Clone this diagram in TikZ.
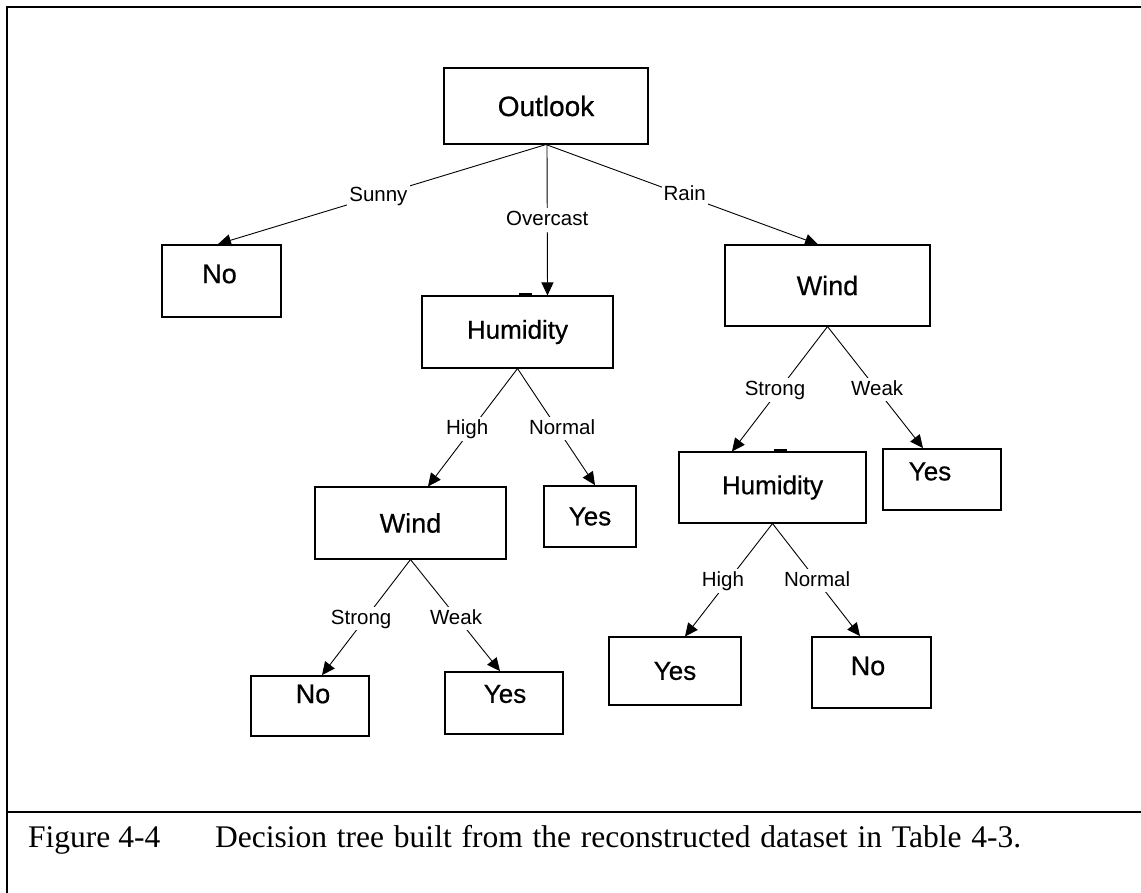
\documentclass[tikz,border=0pt]{standalone}
\usepackage{fontspec}
\setmainfont{Liberation Serif}
\newfontfamily\arialfont{Liberation Sans}
\newfontfamily\boxfont[FakeBold=0.6]{Liberation Sans}
\usetikzlibrary{arrows.meta}
\begin{document}
\begin{tikzpicture}[x=1pt,y=-1pt,
  treebox/.style={draw, line width=1.1pt, inner sep=0pt, font=\boxfont\fontsize{26}{26}\selectfont},
  heavybox/.style={treebox, line width=1.8pt},
  boxtext/.style={inner sep=0pt, font=\boxfont\fontsize{26}{26}\selectfont},
  bigtext/.style={font=\boxfont\fontsize{27}{27}\selectfont},
  elabel/.style={fill=white, inner sep=2pt, text height=15pt, text depth=4.3pt,
                 font=\arialfont\fontsize{20.5}{20.5}\selectfont},
  branch/.style={draw, line width=0.9pt, -{Triangle[length=13pt,width=12pt]}},
]
\useasboundingbox (0,0) rectangle (1141,893);
\fill[white] (0,0) rectangle (1141,893);

% frame and caption rule
\draw[line width=2pt] (6,7) -- (1141,7);
\draw[line width=2pt] (7,6) -- (7,893);
\draw[line width=2.4pt] (7,812) -- (1141,812);

% tree nodes
\node[treebox, minimum width=204pt, minimum height=76pt, font=\boxfont\fontsize{28}{28}\selectfont] (outlook) at (546,106) {Outlook};
\node[heavybox, minimum width=119pt, minimum height=72pt,
      label={[boxtext, bigtext, shift={(-2pt,7pt)}]center:No}] (noL) at (221.5,281) {};
\node[treebox, minimum width=191pt, minimum height=72pt] (hum1) at (517.5,332) {Humidity};
\node[treebox, bigtext, minimum width=205pt, minimum height=81pt] (windR) at (827.5,285.5) {Wind};
\node[treebox, minimum width=187pt, minimum height=71pt] (hum2) at (772.5,487.5) {Humidity};
\node[heavybox, minimum width=118pt, minimum height=61pt,
      label={[boxtext, shift={(-12pt,8pt)}]center:Yes}] (yesR) at (942,479.5) {};
\node[treebox, bigtext, minimum width=191pt, minimum height=72pt] (windL) at (410.5,523) {Wind};
\node[heavybox, minimum width=92pt, minimum height=61pt] (yesM) at (590,516.5) {Yes};
\node[heavybox, minimum width=118pt, minimum height=60pt,
      label={[boxtext, bigtext, shift={(3pt,12pt)}]center:No}] (noBL) at (310,706) {};
\node[heavybox, minimum width=118pt, minimum height=62pt,
      label={[boxtext, shift={(1pt,9pt)}]center:Yes}] (yesBL) at (504,703) {};
\node[treebox, minimum width=132pt, minimum height=68pt] (yesBR) at (675,671) {Yes};
\node[heavybox, minimum width=119pt, minimum height=71pt,
      label={[boxtext, bigtext, shift={(-3.5pt,6.5pt)}]center:No}] (noBR) at (871.5,672.5) {};

% small marks on the humidity boxes
\draw[line width=1.8pt] ([xshift=1pt,yshift=1.5pt]hum1.north) -- ++(13,0) -- ++(0,2);
\draw[line width=1.8pt] ([xshift=1pt,yshift=1.5pt]hum2.north) -- ++(13,0) -- ++(0,2);

% branches
\draw[branch] (outlook.south) -- node[elabel, pos=0.52, xshift=3pt] (lSunny) {Sunny} ([xshift=-3.5pt]noL.north);
\draw[branch] ([xshift=1pt]outlook.south) -- node[elabel, pos=0.5] (lOver) {Overcast} ([xshift=30pt]hum1.north);
\draw[branch] (outlook.south) -- node[elabel, pos=0.51] (lRain) {Rain} ([xshift=-9.5pt]windR.north);

\draw[branch] (windR.south) -- node[elabel, pos=0.508, xshift=-4pt] (lStrongR) {Strong} ([xshift=-40.5pt]hum2.north);
\draw[branch] (windR.south) -- node[elabel, pos=0.52] (lWeakR) {Weak} ([xshift=-19pt]yesR.north);

\draw[branch] (hum1.south) -- node[elabel, pos=0.513, xshift=-4.5pt] (lHighL) {High} ([xshift=17.5pt]windL.north);
\draw[branch] (hum1.south) -- node[elabel, pos=0.517, xshift=4.5pt] (lNormL) {Normal} ([xshift=5pt]yesM.north);

\draw[branch] (windL.south) -- node[elabel, pos=0.513, xshift=-4pt] (lStrongL) {Strong} ([xshift=12pt]noBL.north);
\draw[branch] (windL.south) -- node[elabel, pos=0.531, xshift=-2pt] (lWeakL) {Weak} ([xshift=-4pt]yesBL.north);

\draw[branch] (hum2.south) -- node[elabel, pos=0.509, xshift=-5pt] (lHighR) {High} ([xshift=10pt]yesBR.north);
\draw[branch] (hum2.south) -- node[elabel, pos=0.509] (lNormR) {Normal} ([xshift=-11.5pt]noBR.north);

% caption
\node[anchor=base west, inner sep=0pt, font=\fontsize{31.5}{31.5}\selectfont] (capnum) at (28,847) {Figure 4-4};
\node[anchor=base west, inner sep=0pt, font=\fontsize{31.5}{31.5}\selectfont] (captext) at (215,847) {\spaceskip=9.8pt Decision tree built from the reconstructed dataset in Table 4-3.};
\end{tikzpicture}
\end{document}
